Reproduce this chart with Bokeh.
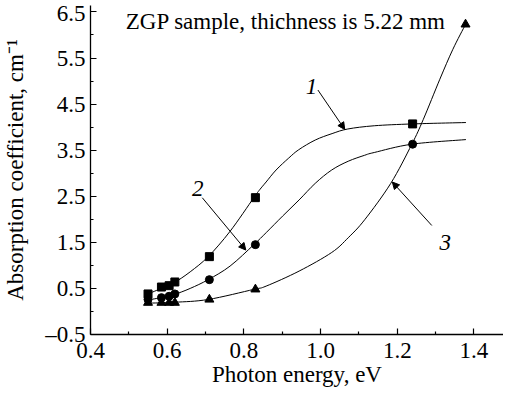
from bokeh.plotting import figure
from bokeh.models import FixedTicker, CustomJSTickFormatter, Label, Arrow, NormalHead
from bokeh.embed import file_html
from bokeh.resources import INLINE

# measured points (photon energy, eV ; absorption coefficient, cm^-1)
sq_x = [0.55, 0.585, 0.605, 0.62, 0.71, 0.83, 1.24]
sq_y = [0.38, 0.53, 0.56, 0.64, 1.19, 2.47, 4.07]
ci_x = [0.55, 0.585, 0.605, 0.62, 0.71, 0.83, 1.24]
ci_y = [0.26, 0.30, 0.33, 0.38, 0.69, 1.45, 3.63]
tr_x = [0.55, 0.585, 0.605, 0.62, 0.71, 0.83, 1.378]
tr_y = [0.19, 0.19, 0.19, 0.19, 0.26, 0.48, 6.23]

# fitted curves
c1_x = [0.55, 0.585, 0.605, 0.62, 0.66, 0.707, 0.764, 0.826, 0.841, 0.858, 0.884, 0.917,
        0.943, 0.986, 1.030, 1.071, 1.140, 1.240, 1.379]
c1_y = [0.38, 0.50, 0.56, 0.63, 0.86, 1.19, 1.74, 2.47, 2.64, 2.81, 3.07, 3.33,
        3.51, 3.72, 3.86, 3.96, 4.03, 4.07, 4.10]
c2_x = [0.55, 0.585, 0.605, 0.62, 0.66, 0.707, 0.764, 0.826, 0.858, 0.901, 0.944, 0.986,
        1.029, 1.072, 1.115, 1.14, 1.238, 1.379]
c2_y = [0.25, 0.30, 0.33, 0.37, 0.50, 0.69, 0.985, 1.45, 1.71, 2.07, 2.42, 2.78,
        3.07, 3.26, 3.39, 3.45, 3.63, 3.73]
c3_x = [0.55, 0.62, 0.707, 0.826, 0.858, 0.944, 1.029, 1.072, 1.115, 1.183, 1.238,
        1.268, 1.311, 1.345, 1.378]
c3_y = [0.18, 0.20, 0.26, 0.48, 0.55, 0.876, 1.28, 1.60, 1.99, 2.78, 3.63,
        4.17, 5.04, 5.69, 6.23]

y_major = [-0.5, 0.5, 1.5, 2.5, 3.5, 4.5, 5.5, 6.5]
y_minor = [0.0, 1.0, 2.0, 3.0, 4.0, 5.0, 6.0]
x_major = [0.4, 0.6, 0.8, 1.0, 1.2, 1.4]
x_minor = [0.5, 0.7, 0.9, 1.1, 1.3]

FONT = "Liberation Serif"
FS = "23px"

p = figure(width=503, height=392, x_range=(0.4, 1.477), y_range=(-0.5, 6.64),
           output_backend="svg", toolbar_location=None,
           min_border_left=83, min_border_right=0, min_border_top=5, min_border_bottom=58)
p.grid.visible = False
p.outline_line_color = None
p.background_fill_color = "white"
p.border_fill_color = "white"

for ax in (p.xaxis[0], p.yaxis[0]):
    ax.axis_line_width = 1.3
    ax.axis_line_color = "black"
    ax.major_tick_in = 6
    ax.major_tick_out = 0
    ax.minor_tick_in = 3
    ax.minor_tick_out = 0
    ax.major_tick_line_width = 1.2
    ax.minor_tick_line_width = 1.2
    ax.major_tick_line_color = "black"
    ax.minor_tick_line_color = "black"
    ax.major_label_text_font = FONT
    ax.major_label_text_font_size = FS
    ax.major_label_text_color = "black"
    ax.axis_label_text_font = FONT
    ax.axis_label_text_font_size = FS
    ax.axis_label_text_font_style = "normal"
    ax.axis_label_text_color = "black"
    ax.formatter = CustomJSTickFormatter(code="return tick.toFixed(1).replace('-', '\u2013');")

p.xaxis.ticker = FixedTicker(ticks=x_major, minor_ticks=x_minor)
p.yaxis.ticker = FixedTicker(ticks=y_major, minor_ticks=y_minor)
p.xaxis.axis_label = "Photon energy, eV"
p.yaxis.axis_label = "Absorption coefficient, cm\u207b\u00b9"
p.xaxis.major_label_standoff = 8
p.xaxis.axis_label_standoff = 1
p.yaxis.major_label_standoff = 5
p.yaxis.axis_label_standoff = 14


def catmull_bezier(xs, ys):
    n = len(xs)
    px = [xs[0]] + list(xs) + [xs[-1]]
    py = [ys[0]] + list(ys) + [ys[-1]]
    out = dict(x0=[], y0=[], x1=[], y1=[], cx0=[], cy0=[], cx1=[], cy1=[])
    for i in range(n - 1):
        a, b, c, d = i, i + 1, i + 2, i + 3
        out["x0"].append(px[b]); out["y0"].append(py[b])
        out["x1"].append(px[c]); out["y1"].append(py[c])
        out["cx0"].append(px[b] + (px[c] - px[a]) / 6)
        out["cy0"].append(py[b] + (py[c] - py[a]) / 6)
        out["cx1"].append(px[c] - (px[d] - px[b]) / 6)
        out["cy1"].append(py[c] - (py[d] - py[b]) / 6)
    return out


for cx, cy in [(c1_x, c1_y), (c2_x, c2_y), (c3_x, c3_y)]:
    p.bezier(source=catmull_bezier(cx, cy), x0="x0", y0="y0", x1="x1", y1="y1",
             cx0="cx0", cy0="cy0", cx1="cx1", cy1="cy1", line_color="black", line_width=1)

p.scatter(sq_x, sq_y, marker="square", size=8, fill_color="black", line_color="black")
p.scatter(ci_x, ci_y, marker="circle", size=8, fill_color="black", line_color="black")
p.scatter(tr_x, tr_y, marker="triangle", size=9, fill_color="black", line_color="black")

p.add_layout(Label(x=0.492, y=6.29, text="ZGP sample, thichness is 5.22 mm",
                   text_font=FONT, text_font_size=FS, text_color="black",
                   text_baseline="alphabetic"))

for txt, lx, ly in [("1", 0.976, 4.88), ("2", 0.68, 2.66), ("3", 1.325, 1.506)]:
    p.add_layout(Label(x=lx, y=ly, text=txt, text_font=FONT, text_font_size=FS,
                       text_font_style="italic", text_color="black",
                       text_align="center", text_baseline="alphabetic"))

for xs, ys, xe, ye in [(0.993, 4.806, 1.063, 3.95), (0.6915, 2.468, 0.805, 1.332),
                       (1.29, 1.866, 1.187, 2.809)]:
    p.add_layout(Arrow(end=NormalHead(size=7, fill_color="black", line_color="black"),
                       x_start=xs, y_start=ys, x_end=xe, y_end=ye,
                       line_color="black", line_width=1))

open("out.html", "w").write(file_html(p, INLINE))
